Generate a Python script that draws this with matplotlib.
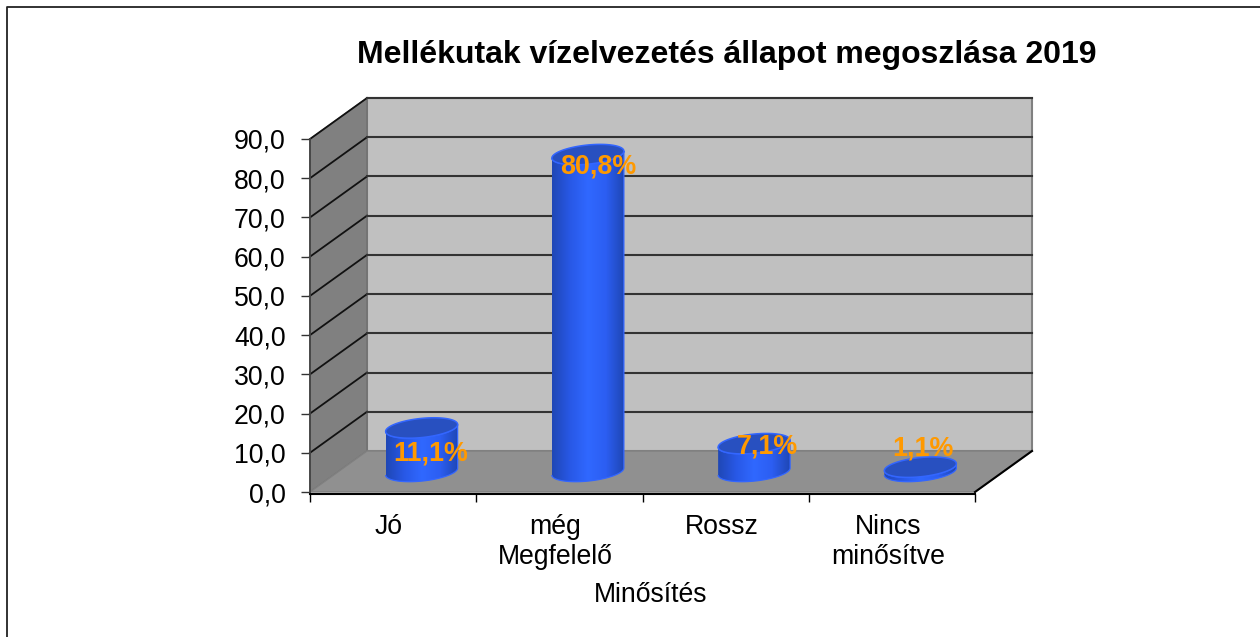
import numpy as np
import matplotlib
matplotlib.use("Agg")
import matplotlib.pyplot as plt
from matplotlib.colors import LinearSegmentedColormap
from matplotlib.lines import Line2D
from matplotlib.patches import Polygon, PathPatch
from matplotlib.path import Path

plt.rcParams['font.family'] = ['Liberation Sans', 'DejaVu Sans']

categories = ["Jó", "még\nMegfelelő", "Rossz", "Nincs\nminősítve"]
values = [11.1, 80.8, 7.1, 1.1]
value_labels = ["11,1%", "80,8%", "7,1%", "1,1%"]
y_ticks = [0, 10, 20, 30, 40, 50, 60, 70, 80, 90]
y_tick_labels = ["0,0", "10,0", "20,0", "30,0", "40,0", "50,0", "60,0", "70,0", "80,0", "90,0"]
title = "Mellékutak vízelvezetés állapot megoszlása 2019"
x_title = "Minősítés"

W, H = 1260, 637
fig = plt.figure(figsize=(W / 100, H / 100), dpi=100)

# front face of the chart box, in pixels
left, right, bottom, top = 310, 975, 492, 139
ax = fig.add_axes([left / W, 1 - bottom / H, (right - left) / W, (bottom - top) / H])

n = len(categories)
px_x = (right - left) / n     # pixels per category
px_y = (bottom - top) / 90    # pixels per value unit
dx = 57 / px_x                # depth of the box
dy = 41 / px_y

# outer frame, only top and left are in the picture
fig.add_artist(Line2D([7 / W, 7 / W, 1], [0, 1 - 6.5 / H, 1 - 6.5 / H], transform=fig.transFigure,
                      color="#222222", lw=1.3))

# walls
ax.add_patch(Polygon([(dx, dy), (n + dx, dy), (n + dx, 90 + dy), (dx, 90 + dy)],
                     fc="#c0c0c0", ec="#808080", lw=1.5, zorder=1, clip_on=False))
ax.add_patch(Polygon([(0, 0), (dx, dy), (dx, 90 + dy), (0, 90)],
                     fc="#808080", ec="#707070", lw=1, zorder=1, clip_on=False))
ax.add_patch(Polygon([(0, 0), (n, 0), (n + dx, dy), (dx, dy)],
                     fc="#909090", ec="#808080", lw=1, zorder=1, clip_on=False))

# grid lines, side wall then back wall
for v in y_ticks[1:]:
    ax.plot([0, dx], [v, v + dy], color="#111111", lw=1.3, zorder=2, clip_on=False)
    ax.plot([dx, n + dx], [v + dy, v + dy], color="#333333", lw=1.5, zorder=2, clip_on=False)
ax.plot([n, n + dx], [0, dy], color="black", lw=1.5, zorder=2, clip_on=False)

# cylinders
cyl_cmap = LinearSegmentedColormap.from_list(
    "cyl", ["#1f47b5", "#2858e6", "#3068ff", "#2c5ef2", "#1f47b5"])
grad = np.linspace(0, 1, 256).reshape(1, -1)
a = 36 / px_x        # half width
b = 9.6 / px_y       # half height of the ellipse
s = 3.5 / px_y       # tilt of the ellipse
t = np.linspace(0, 2 * np.pi, 121)
t_low = np.linspace(np.pi, 2 * np.pi, 61)

for i, v in enumerate(values):
    cx = i + 0.5 + dx / 2
    cy = dy / 2
    # side of the cylinder: lower arc at the base, closed along the top rim
    xs = np.concatenate([cx + a * np.cos(t_low), cx + a * np.cos(t_low[::-1])])
    ys = np.concatenate([cy + s * np.cos(t_low) + b * np.sin(t_low),
                         cy + v + s * np.cos(t_low[::-1]) + b * np.sin(t_low[::-1])])
    side = PathPatch(Path(np.column_stack([xs, ys]), closed=False), transform=ax.transData,
                     fc="none", ec="#3366ff", lw=0.9, zorder=3.1, clip_on=False)
    ax.add_patch(side)
    im = ax.imshow(grad, extent=[cx - a, cx + a, 0, 90], cmap=cyl_cmap, aspect="auto", zorder=3)
    im.set_clip_path(PathPatch(Path(np.column_stack([xs, ys])), transform=ax.transData))
    ax.add_patch(Polygon(np.column_stack([cx + a * np.cos(t), cy + v + s * np.cos(t) + b * np.sin(t)]),
                         fc="#2850c0", ec="#3366ff", lw=1.1, zorder=3.2, clip_on=False))

# data labels, offset from the top of each cylinder (pixels)
label_dx = [9, 10, 13, 3]
label_dy = [-26, -12, -3, 19]
for i, v in enumerate(values):
    ax.annotate(value_labels[i], (i + 0.5 + dx / 2, dy / 2 + v),
                xytext=(label_dx[i] * 0.72, label_dy[i] * 0.72), textcoords="offset points",
                ha="center", va="center", color="#ff9900", fontsize=19.4, fontweight="bold",
                zorder=5, annotation_clip=False)

ax.set_xlim(0, n)
ax.set_ylim(0, 90)
ax.patch.set_visible(False)
for name in ["top", "right"]:
    ax.spines[name].set_visible(False)
ax.spines["left"].set_linewidth(1.3)
ax.spines["left"].set_color("#444444")
ax.spines["left"].set_zorder(4)
ax.spines["bottom"].set_linewidth(1.5)
ax.spines["bottom"].set_position(("outward", 1.2))
ax.spines["bottom"].set_zorder(4)

ax.set_yticks(y_ticks)
ax.set_yticklabels(y_tick_labels, fontsize=19.2)
ax.tick_params(axis="y", length=6.5, width=1, color="#333333", pad=11)
ax.set_xticks(range(n + 1))
ax.set_xticklabels([])
ax.tick_params(axis="x", which="major", length=5.5, width=1)
ax.set_xticks(np.arange(n) + 0.475, minor=True)
ax.set_xticklabels(categories, minor=True, fontsize=19.2, linespacing=1.2)
ax.tick_params(axis="x", which="minor", length=0, pad=14.5)

fig.text(651 / W, 1 - 595 / H, x_title, ha="center", va="center", fontsize=19.2)
fig.text(727 / W, 1 - 55 / H, title, ha="center", va="center", fontsize=23, fontweight="bold")

fig.savefig("out.png", dpi=100)
